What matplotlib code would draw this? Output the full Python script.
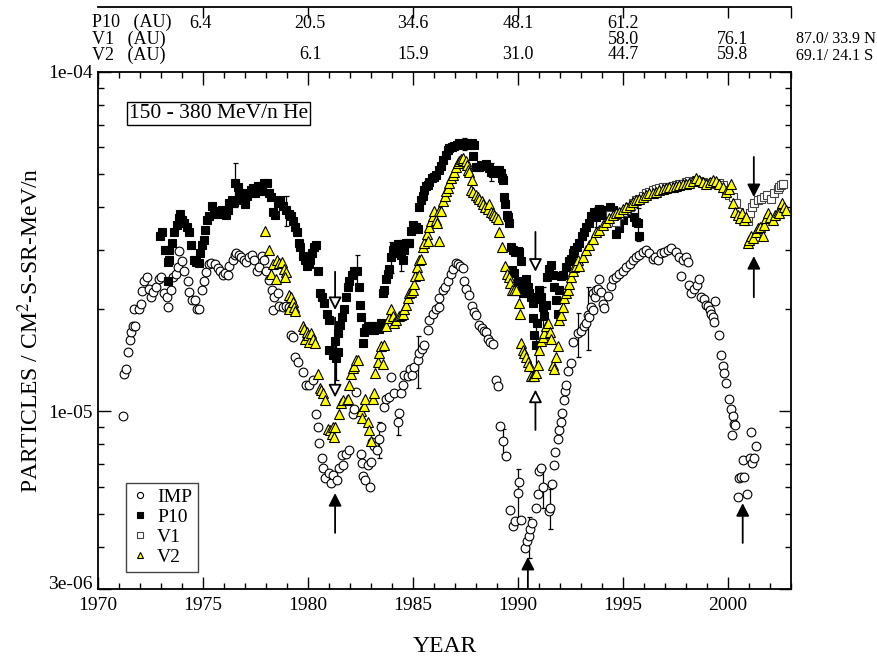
import matplotlib
matplotlib.use('Agg')
import matplotlib.pyplot as plt
import matplotlib.transforms as mtransforms
from matplotlib.ticker import FixedLocator, FixedFormatter, MultipleLocator, NullFormatter

plt.rcParams['font.family'] = ['Liberation Serif', 'DejaVu Serif']
plt.rcParams['mathtext.fontset'] = 'stix'

# flux values below are in units of 1e-6 particles / cm2-s-sr-MeV/n
UNIT = 1e-6

imp_year = [1971.18, 1971.25, 1971.33, 1971.42, 1971.50, 1971.57, 1971.65, 1971.77, 1971.73, 1971.95,
            1972.05, 1972.10, 1972.20, 1972.32, 1972.42, 1972.50, 1972.60, 1972.76, 1972.89, 1972.99,
            1973.16, 1973.27, 1973.34, 1973.48, 1973.59, 1973.72, 1973.80, 1973.88, 1974.00, 1974.11,
            1974.27, 1974.35, 1974.48, 1974.60, 1974.70, 1974.83, 1974.95, 1975.07, 1975.15, 1975.27,
            1975.40, 1975.55, 1975.70, 1975.83, 1975.94, 1976.06, 1976.17, 1976.26, 1976.42, 1976.50,
            1976.58, 1976.70, 1976.80, 1976.97, 1977.05, 1977.18, 1977.34, 1977.45, 1977.57, 1977.68,
            1977.81, 1977.89, 1978.00, 1978.16, 1978.29, 1978.40, 1978.32, 1978.56, 1978.64, 1978.80,
            1978.96, 1979.11, 1979.19, 1979.30, 1979.40, 1979.51, 1979.75, 1979.90, 1980.07, 1980.22,
            1980.38, 1980.46, 1980.54, 1980.67, 1980.73, 1980.83, 1980.99, 1981.10, 1981.18, 1981.37,
            1981.49, 1981.62, 1981.65, 1981.81, 1981.97, 1982.13, 1982.21, 1982.29, 1982.53, 1982.57,
            1982.64, 1982.73, 1982.84, 1982.96, 1983.00, 1983.05, 1983.16, 1983.27, 1983.40, 1983.48,
            1983.64, 1983.72, 1983.88, 1983.96, 1984.11, 1984.27, 1984.35, 1984.43, 1984.51, 1984.59,
            1984.75, 1984.86, 1984.96, 1985.07, 1985.23, 1985.30, 1985.43, 1985.54, 1985.70, 1985.78,
            1985.94, 1986.10, 1986.23, 1986.26, 1986.42, 1986.54, 1986.65, 1986.81, 1986.89, 1987.05,
            1987.15, 1987.25, 1987.37, 1987.45, 1987.53, 1987.69, 1987.81, 1987.92, 1988.00, 1988.16,
            1988.28, 1988.40, 1988.48, 1988.56, 1988.67, 1988.80, 1988.96, 1989.03, 1989.15, 1989.30,
            1989.43, 1989.62, 1989.75, 1989.88, 1989.99, 1990.07, 1990.15, 1990.32, 1990.43, 1990.50,
            1990.58, 1990.67, 1990.85, 1990.94, 1991.02, 1991.10, 1991.21, 1991.46, 1991.53, 1991.62,
            1991.73, 1991.78, 1991.89, 1991.97, 1992.05, 1992.10, 1992.21, 1992.26, 1992.29, 1992.37,
            1992.53, 1992.60, 1992.85, 1993.00, 1993.16, 1993.24, 1993.32, 1993.40, 1993.48, 1993.56,
            1993.59, 1993.69, 1993.72, 1993.80, 1993.85, 1993.95, 1994.04, 1994.10, 1994.27, 1994.43,
            1994.51, 1994.67, 1994.83, 1994.99, 1995.15, 1995.31, 1995.46, 1995.62, 1995.78, 1995.94,
            1996.10, 1996.26, 1996.42, 1996.50, 1996.65, 1996.81, 1996.97, 1997.13, 1997.29, 1997.53,
            1997.69, 1997.76, 1997.84, 1998.00, 1998.08, 1998.16, 1998.24, 1998.40, 1998.50, 1998.61,
            1998.72, 1998.84, 1998.96, 1999.04, 1999.12, 1999.19, 1999.27, 1999.35, 1999.40, 1999.59,
            1999.67, 1999.75, 1999.83, 1999.91, 2000.03, 2000.15, 2000.23, 2000.27, 2000.20, 2000.35,
            2000.46, 2000.51, 2000.62, 2000.70, 2000.78, 2000.89, 2001.05, 2001.10, 2001.15, 2001.26,
            2001.31]
imp_flux = [9.7, 12.9, 13.3, 15.0, 16.2, 17.1, 17.8, 17.9, 20.0, 20.1,
            20.8, 22.7, 24.3, 24.9, 23.0, 21.7, 22.5, 23.3, 24.5, 24.9,
            22.3, 21.7, 20.3, 22.8, 24.9, 25.4, 26.6, 29.6, 27.8, 26.0,
            24.3, 22.5, 21.3, 21.3, 20.0, 20.0, 22.8, 24.3, 25.7, 27.2,
            27.3, 27.2, 26.5, 25.9, 25.3, 25.6, 25.3, 26.8, 27.9, 28.9,
            29.3, 28.9, 28.6, 27.9, 27.6, 28.6, 28.9, 27.9, 26.0, 26.6,
            28.8, 27.9, 26.0, 24.4, 22.8, 21.8, 19.9, 22.3, 20.5, 20.3,
            20.5, 20.3, 16.8, 16.6, 14.5, 14.0, 13.1, 12.0, 12.0, 12.4,
            9.8, 9.0, 8.1, 7.3, 6.8, 6.36, 6.6, 6.15, 6.5, 6.3,
            6.8, 7.45, 6.95, 7.5, 7.7, 9.8, 10.2, 11.4, 7.5, 7.05,
            6.45, 6.3, 6.95, 6.0, 7.1, 8.15, 7.9, 7.7, 8.3, 9.0,
            10.3, 10.9, 11.0, 12.6, 11.3, 9.3, 9.9, 11.3, 12.0, 12.8,
            12.7, 13.3, 12.8, 13.5, 14.2, 14.9, 15.3, 15.7, 17.4, 18.6,
            19.4, 20.1, 20.3, 21.6, 22.8, 23.3, 24.3, 25.4, 26.2, 27.3,
            27.2, 26.8, 26.5, 24.3, 22.9, 22.0, 20.5, 19.7, 19.3, 18.0,
            17.6, 17.3, 17.2, 16.4, 16.0, 15.8, 12.4, 11.9, 9.05, 8.2,
            7.4, 5.13, 4.6, 4.75, 5.75, 6.2, 4.8, 3.95, 4.15, 4.3,
            4.5, 4.7, 5.2, 5.7, 6.7, 6.8, 6.0, 5.1, 5.2, 6.1,
            6.95, 7.6, 8.3, 8.8, 9.3, 9.9, 10.8, 11.5, 12.0, 13.2,
            13.9, 16.0, 17.0, 17.3, 17.8, 18.2, 19.2, 19.0, 20.3, 19.9,
            22.3, 21.8, 22.8, 22.9, 24.6, 22.5, 20.8, 20.2, 21.9, 23.4,
            24.5, 24.9, 25.4, 26.0, 26.6, 27.2, 27.9, 28.6, 28.9, 29.5,
            30.0, 29.3, 28.2, 28.6, 27.9, 29.3, 29.5, 30.0, 30.3, 29.5,
            28.6, 25.1, 27.9, 28.6, 27.5, 23.6, 22.3, 22.9, 23.6, 24.6,
            21.8, 21.4, 20.6, 20.4, 19.9, 19.4, 19.0, 18.4, 21.2, 16.8,
            14.7, 13.6, 13.0, 12.1, 10.9, 10.2, 9.7, 9.2, 8.5, 9.1,
            5.6, 6.35, 6.4, 7.2, 6.4, 5.7, 7.3, 8.7, 7.05, 7.3,
            7.9]

p10_year = [1972.97, 1973.05, 1973.21, 1973.37, 1973.32, 1973.40, 1973.34, 1973.53, 1973.64, 1973.75,
            1973.84, 1973.91, 1974.00, 1974.11, 1974.22, 1974.32, 1974.43, 1974.56, 1974.67, 1974.80,
            1974.86, 1974.95, 1975.03, 1975.11, 1975.18, 1975.30, 1975.43, 1975.54, 1975.65, 1975.78,
            1975.89, 1975.99, 1976.10, 1976.19, 1976.26, 1976.37, 1976.46, 1976.54, 1976.65, 1976.76,
            1976.89, 1976.99, 1977.08, 1977.18, 1977.29, 1977.40, 1977.49, 1977.61, 1977.72, 1977.81,
            1977.92, 1978.03, 1978.13, 1978.24, 1978.35, 1978.45, 1978.56, 1978.67, 1978.80, 1978.95,
            1979.08, 1979.19, 1979.30, 1979.40, 1979.46, 1979.56, 1979.64, 1979.75, 1979.84, 1979.94,
            1980.03, 1980.10, 1980.19, 1980.29, 1980.38, 1980.48, 1980.57, 1980.67, 1980.78, 1980.89,
            1980.99, 1981.02, 1981.18, 1981.34, 1981.45, 1981.30, 1981.42, 1981.50, 1981.62, 1981.73,
            1981.81, 1981.89, 1981.97, 1982.10, 1982.21, 1982.32, 1982.45, 1982.48, 1982.53, 1982.60,
            1982.69, 1982.78, 1982.86, 1982.95, 1983.03, 1983.12, 1983.22, 1983.30, 1983.40, 1983.48,
            1983.56, 1983.64, 1983.72, 1983.80, 1983.88, 1983.96, 1984.03, 1984.11, 1984.19, 1984.27,
            1984.35, 1984.43, 1984.51, 1984.59, 1984.67, 1984.75, 1984.83, 1984.91, 1984.99, 1985.07,
            1985.15, 1985.23, 1985.30, 1985.38, 1985.46, 1985.54, 1985.62, 1985.70, 1985.78, 1985.91,
            1986.02, 1986.10, 1986.23, 1986.34, 1986.45, 1986.57, 1986.65, 1986.73, 1986.86, 1986.97,
            1987.08, 1987.21, 1987.34, 1987.45, 1987.56, 1987.69, 1987.81, 1987.92, 1987.88, 1988.00,
            1988.13, 1988.24, 1988.35, 1988.48, 1988.60, 1988.72, 1988.83, 1988.96, 1989.08, 1989.19,
            1989.24, 1989.27, 1989.35, 1989.38, 1989.46, 1989.54, 1989.59, 1989.67, 1989.78, 1989.88,
            1989.99, 1990.07, 1990.15, 1989.72, 1989.83, 1989.99, 1990.19, 1990.26, 1990.38, 1990.46,
            1990.54, 1990.62, 1990.70, 1990.73, 1990.78, 1990.86, 1990.89, 1990.97, 1991.02, 1991.10,
            1991.18, 1991.26, 1991.34, 1991.37, 1991.46, 1991.57, 1991.65, 1991.73, 1991.81, 1991.89,
            1991.97, 1992.05, 1992.16, 1992.29, 1992.42, 1992.53, 1992.61, 1992.69, 1992.80, 1992.92,
            1993.05, 1993.16, 1993.24, 1993.37, 1993.48, 1993.64, 1993.72, 1993.88, 1994.03, 1994.19,
            1994.38, 1994.51, 1994.67, 1994.83, 1994.99, 1995.15, 1995.30, 1995.54, 1995.62, 1995.70,
            1995.78]
p10_flux = [32.8, 33.7, 29.9, 29.9, 27.6, 27.9, 24.3, 31.4, 33.7, 35.4,
            37.2, 38.1, 36.6, 35.8, 35.0, 33.8, 30.9, 27.9, 27.6, 27.3,
            29.3, 30.9, 31.9, 34.2, 36.6, 37.6, 40.2, 38.6, 38.2, 38.9,
            39.2, 38.2, 37.8, 39.2, 41.2, 42.0, 41.5, 47.0, 45.7, 44.1,
            42.0, 40.9, 43.0, 44.1, 44.9, 45.6, 43.9, 46.0, 44.7, 46.2,
            47.1, 47.0, 44.1, 42.9, 38.8, 38.0, 41.0, 42.0, 40.3, 39.2,
            38.2, 37.7, 36.4, 35.0, 33.8, 31.4, 30.5, 28.8, 27.9, 26.8,
            27.2, 28.0, 29.3, 30.6, 30.9, 25.9, 22.3, 21.7, 20.9, 19.4,
            18.6, 15.2, 14.7, 14.4, 15.0, 16.1, 17.0, 18.0, 19.0, 20.1,
            21.8, 23.3, 24.3, 25.2, 26.0, 25.9, 23.3, 20.6, 19.0, 15.9,
            17.2, 17.6, 17.9, 17.4, 17.8, 17.4, 17.6, 17.9, 17.5, 18.2,
            22.3, 22.8, 24.6, 25.4, 26.2, 28.6, 29.9, 30.6, 29.3, 31.2,
            30.6, 28.9, 27.9, 29.9, 31.4, 31.4, 31.4, 34.0, 35.4, 35.0,
            35.0, 34.4, 39.9, 42.1, 43.1, 44.9, 46.1, 46.4, 47.5, 48.6,
            48.9, 49.7, 51.5, 52.9, 55.1, 57.0, 59.0, 59.7, 60.1, 60.7,
            61.1, 61.6, 61.1, 61.6, 61.9, 61.1, 61.9, 61.1, 56.6, 52.6,
            52.6, 53.3, 52.9, 53.6, 52.0, 50.8, 50.3, 51.4, 51.6, 50.3,
            48.6, 48.1, 42.9, 40.9, 37.9, 37.3, 35.8, 30.6, 29.9, 29.5,
            29.7, 29.5, 27.7, 26.1, 25.5, 24.3, 23.3, 22.3, 24.6, 23.3,
            22.3, 21.8, 20.9, 18.9, 16.8, 15.7, 18.2, 21.5, 22.8, 21.8,
            20.3, 19.1, 20.6, 24.9, 26.3, 27.0, 25.3, 23.2, 21.3, 19.4,
            22.8, 25.0, 25.2, 26.6, 27.7, 28.2, 29.3, 29.9, 30.6, 31.4,
            32.8, 33.8, 35.0, 35.9, 37.6, 38.8, 37.5, 39.6, 37.9, 39.2,
            40.1, 39.2, 33.3, 34.6, 36.7, 38.4, 40.1, 37.5, 36.1, 35.8,
            32.9]

v1_year = [1994.40, 1994.67, 1994.83, 1994.99, 1995.15, 1995.31, 1995.46, 1995.62, 1995.78, 1995.94,
           1996.10, 1996.26, 1996.42, 1996.58, 1996.73, 1996.89, 1997.05, 1997.21, 1997.37, 1997.53,
           1997.69, 1997.84, 1998.00, 1998.16, 1998.32, 1998.48, 1998.64, 1998.80, 1998.96, 1999.12,
           1999.27, 1999.43, 1999.59, 1999.75, 1999.91, 2000.07, 2000.23, 2000.38, 2000.51, 2000.67,
           2000.78, 2000.94, 2001.05, 2001.15, 2001.26, 2001.42, 2001.57, 2001.73, 2001.84, 2002.05,
           2002.21, 2002.37, 2002.45, 2002.53, 2002.61]
v1_flux = [38.0, 36.1, 37.9, 38.8, 39.2, 40.1, 41.0, 42.0, 42.4, 43.1,
           43.9, 44.4, 44.9, 45.1, 45.4, 45.9, 45.9, 45.7, 46.1, 46.4,
           46.9, 46.9, 47.4, 47.8, 47.4, 48.2, 47.8, 47.4, 47.1, 46.9,
           47.4, 46.9, 47.1, 46.4, 44.9, 43.5, 42.8, 41.0, 38.8, 37.5,
           36.7, 36.5, 38.4, 40.1, 41.0, 42.0, 42.4, 42.8, 43.4, 42.2,
           43.9, 45.1, 45.9, 46.5, 46.8]

v2_year = [1977.97, 1978.13, 1978.24, 1978.35, 1978.48, 1978.50, 1978.62, 1978.75, 1978.86, 1978.97,
           1978.92, 1979.08, 1979.11, 1979.19, 1979.27, 1979.35, 1979.40, 1979.75, 1979.82, 1979.88,
           1979.93, 1980.00, 1980.07, 1980.15, 1980.22, 1980.35, 1980.46, 1980.57, 1980.62, 1980.70,
           1980.83, 1980.94, 1981.04, 1981.14, 1981.18, 1981.26, 1981.30, 1981.46, 1981.57, 1981.68,
           1981.84, 1981.90, 1981.97, 1982.05, 1982.13, 1982.21, 1982.29, 1982.37, 1982.53, 1982.57,
           1982.69, 1982.73, 1982.84, 1982.92, 1983.00, 1983.08, 1983.16, 1983.21, 1983.32, 1983.40,
           1983.48, 1983.56, 1983.64, 1983.72, 1983.88, 1983.96, 1984.03, 1984.11, 1984.19, 1984.32,
           1984.43, 1984.51, 1984.59, 1984.67, 1984.75, 1984.83, 1984.91, 1984.99, 1985.07, 1985.11,
           1985.18, 1985.27, 1985.30, 1985.38, 1985.46, 1985.54, 1985.65, 1985.70, 1985.78, 1985.86,
           1985.94, 1986.02, 1986.10, 1986.13, 1986.23, 1986.26, 1986.34, 1986.42, 1986.50, 1986.57,
           1986.65, 1986.73, 1986.81, 1986.89, 1986.97, 1987.05, 1987.13, 1987.21, 1987.29, 1987.37,
           1987.40, 1987.50, 1987.56, 1987.61, 1987.69, 1987.81, 1987.76, 1987.88, 1988.00, 1988.08,
           1988.16, 1988.29, 1988.35, 1988.45, 1988.56, 1988.64, 1988.72, 1988.80, 1988.88, 1988.96,
           1989.03, 1989.11, 1989.24, 1989.38, 1989.48, 1989.56, 1989.62, 1989.72, 1989.83, 1989.91,
           1990.07, 1990.10, 1990.15, 1990.22, 1990.30, 1990.38, 1990.46, 1990.54, 1990.62, 1990.70,
           1990.78, 1990.86, 1990.94, 1991.02, 1991.10, 1991.18, 1991.26, 1991.34, 1991.42, 1991.50,
           1991.57, 1991.65, 1991.73, 1991.81, 1991.89, 1991.97, 1992.05, 1992.13, 1992.21, 1992.29,
           1992.37, 1992.45, 1992.53, 1992.61, 1992.69, 1992.77, 1992.85, 1992.92, 1993.08, 1993.24,
           1993.40, 1993.56, 1993.72, 1993.88, 1994.04, 1994.19, 1994.35, 1994.51, 1994.67, 1994.83,
           1994.99, 1995.15, 1995.31, 1995.46, 1995.62, 1995.78, 1995.94, 1996.10, 1996.26, 1996.42,
           1996.58, 1996.73, 1996.89, 1997.05, 1997.21, 1997.37, 1997.53, 1997.69, 1997.84, 1998.00,
           1998.16, 1998.32, 1998.48, 1998.64, 1998.80, 1998.96, 1999.12, 1999.27, 1999.43, 1999.59,
           1999.75, 1999.91, 2000.07, 2000.15, 2000.26, 2000.35, 2000.46, 2000.57, 2000.67, 2000.78,
           2000.86, 2000.94, 2001.02, 2001.10, 2001.18, 2001.31, 2001.42, 2001.53, 2001.65, 2001.73,
           2001.81, 2001.89, 2002.00, 2002.13, 2002.26, 2002.37, 2002.45, 2002.58, 2002.69, 2002.77]
v2_flux = [33.9, 29.8, 25.4, 27.2, 24.6, 27.9, 27.3, 27.6, 26.2, 25.8,
           24.9, 20.1, 22.0, 21.8, 21.0, 20.3, 19.8, 17.8, 17.5, 16.4,
           17.2, 16.8, 16.0, 17.0, 16.4, 15.9, 12.9, 11.7, 11.6, 11.3,
           10.8, 8.9, 8.85, 8.6, 9.0, 8.4, 9.0, 9.8, 10.6, 10.8,
           10.8, 10.9, 12.0, 12.9, 13.4, 13.6, 14.2, 14.2, 10.0, 9.6,
           10.4, 10.9, 9.3, 8.8, 8.2, 10.9, 11.3, 13.0, 14.0, 14.9,
           15.6, 13.8, 15.7, 17.8, 18.9, 20.1, 19.1, 18.2, 18.6, 19.1,
           19.2, 19.4, 20.1, 20.6, 21.6, 22.3, 22.5, 22.8, 23.8, 25.0,
           26.6, 25.3, 27.9, 28.2, 30.6, 31.4, 33.3, 31.8, 35.0, 36.3,
           37.6, 38.9, 36.7, 35.8, 38.9, 31.8, 38.9, 41.6, 43.1, 44.5,
           45.5, 47.0, 48.6, 49.7, 50.8, 52.6, 53.8, 54.5, 55.4, 55.1,
           55.7, 54.5, 53.3, 51.5, 50.8, 48.1, 44.9, 44.4, 43.3, 42.8,
           42.3, 41.8, 40.9, 40.0, 39.6, 40.9, 38.8, 38.4, 37.9, 37.5,
           37.0, 33.7, 30.6, 26.8, 25.4, 24.9, 23.9, 22.8, 22.8, 22.8,
           20.9, 19.4, 15.9, 15.2, 14.9, 14.5, 14.0, 13.6, 12.7, 12.7,
           12.7, 13.0, 13.7, 15.2, 16.1, 16.6, 17.0, 17.8, 18.2, 17.2,
           16.3, 13.7, 13.3, 14.5, 15.6, 18.6, 19.2, 20.3, 21.6, 22.3,
           22.8, 23.8, 24.9, 26.0, 26.6, 26.9, 27.9, 26.9, 28.6, 29.9,
           30.9, 32.2, 33.7, 34.2, 35.4, 36.1, 37.1, 37.9, 38.4, 38.8,
           39.4, 40.1, 40.6, 41.5, 42.0, 42.4, 42.8, 43.4, 43.9, 44.1,
           44.4, 44.9, 45.1, 45.4, 45.7, 45.9, 46.1, 46.4, 46.9, 46.9,
           47.1, 47.8, 48.6, 48.2, 47.4, 46.9, 47.4, 48.2, 47.8, 46.9,
           45.9, 44.4, 45.1, 46.9, 41.0, 38.8, 37.9, 37.1, 38.4, 36.7,
           37.5, 31.3, 32.0, 32.8, 32.4, 33.7, 34.6, 35.0, 32.9, 35.4,
           37.1, 38.4, 37.5, 36.7, 37.9, 38.8, 38.4, 41.0, 40.1, 39.2]

# the few points that carry visible error bars (year, flux, half-length)
imp_err_year = [1983.40, 1984.27, 1985.23, 1989.30, 1989.99, 1990.50, 1991.21, 1991.53, 1992.85, 1993.32]
imp_err_flux = [8.3, 9.3, 14.2, 8.2, 5.75, 4.3, 6.0, 5.2, 17.0, 19.2]
imp_err_size = [1.0, 0.8, 2.5, 0.7, 1.0, 0.6, 0.8, 0.7, 2.5, 4.0]
p10_err_year = [1976.54, 1978.95, 1981.34, 1982.32, 1983.96, 1984.43, 1987.45, 1988.72,
                1990.86, 1991.18, 1993.72, 1995.70]
p10_err_flux = [47.0, 39.2, 14.4, 25.9, 28.6, 28.9, 61.6, 50.8, 15.7, 20.3, 37.5, 35.8]
p10_err_size = [7.0, 4.0, 2.0, 3.0, 3.0, 3.0, 2.5, 3.0, 3.0, 3.0, 2.5, 4.0]

# arrows: year, start, tip (same units), open head?
arrow_year = [1981.29, 1981.29, 1981.29, 1990.83, 1990.83, 1990.47, 2001.23, 2001.23, 2000.70]
arrow_from = [25.8, 18.9, 4.39, 33.8, 8.82, 3.02, 56.2, 21.7, 4.10]
arrow_to = [19.9, 11.0, 5.75, 25.8, 11.6, 3.73, 42.8, 28.7, 5.37]
arrow_open = [True, True, False, True, True, False, False, False, False]

# distance table above the plot: one column per epoch, rows P10 / V1 / V2
dist_rows = ['P10   (AU)', 'V1   (AU)', 'V2   (AU)']
col_year = [1974.9, 1980.1, 1985.0, 1990.0, 1995.0, 2000.2]
col_p10 = ['6.4', '20.5', '34.6', '48.1', '61.2', '']
col_v1 = ['', '', '', '', '58.0', '76.1']
col_v2 = ['', '6.1', '15.9', '31.0', '44.7', '59.8']
end_au = ['', '87.0/ 33.9', '69.1/ 24.1']
end_dir = ['', 'N', 'S']

W, H = 877, 657
fig = plt.figure(figsize=(W / 100, H / 100), dpi=100)
ax = fig.add_axes([98 / W, 68 / H, 693 / W, 517 / H])

def scaled(vals):
    return [v * UNIT for v in vals]

ax.errorbar(imp_err_year, scaled(imp_err_flux), yerr=scaled(imp_err_size), fmt='none',
            ecolor='black', elinewidth=0.9, capsize=1.8, capthick=0.9, zorder=2)
ax.errorbar(p10_err_year, scaled(p10_err_flux), yerr=scaled(p10_err_size), fmt='none',
            ecolor='black', elinewidth=0.9, capsize=1.8, capthick=0.9, zorder=2)

ax.plot(imp_year, scaled(imp_flux), ls='none', marker='o', ms=6.3, mfc='white', mec='black',
        mew=0.8, label='IMP', zorder=3)
ax.plot(p10_year, scaled(p10_flux), ls='none', marker='s', ms=5.3, mfc='black', mec='black',
        mew=0.8, label='P10', zorder=4)
ax.plot(v1_year, scaled(v1_flux), ls='none', marker='s', ms=5.3, mfc='white', mec='#444444',
        mew=0.8, label='V1', zorder=5)
ax.plot(v2_year, scaled(v2_flux), ls='none', marker='^', ms=6.5, mfc='#ffff00', mec='black',
        mew=0.8, label='V2', zorder=6)

for yr, y0, y1, op in zip(arrow_year, arrow_from, arrow_to, arrow_open):
    ax.annotate('', xy=(yr, y1 * UNIT), xytext=(yr, y0 * UNIT),
                arrowprops=dict(arrowstyle='-|>,head_length=0.55,head_width=0.28',
                                mutation_scale=14, lw=1.3, ec='black',
                                fc='white' if op else 'black', shrinkA=0, shrinkB=0),
                zorder=7)

ax.set_xlim(1970, 2003)
ax.set_yscale('log')
ax.set_ylim(3e-6, 1e-4)

ax.xaxis.set_major_locator(FixedLocator([1970, 1975, 1980, 1985, 1990, 1995, 2000]))
ax.xaxis.set_minor_locator(MultipleLocator(1))
# bottom label 3e-06 is placed by hand a little higher so it clears 1970
ax.yaxis.set_major_locator(FixedLocator([3e-6, 1e-5, 1e-4]))
ax.yaxis.set_major_formatter(FixedFormatter(['', '1e-05', '1e-04']))
ax.yaxis.set_minor_locator(FixedLocator([4e-6, 5e-6, 6e-6, 7e-6, 8e-6, 9e-6,
                                         2e-5, 3e-5, 4e-5, 5e-5, 6e-5, 7e-5, 8e-5, 9e-5]))
ax.yaxis.set_minor_formatter(NullFormatter())
ax.tick_params(which='both', direction='in', top=True, right=True, width=1.0, labelsize=14)
ax.tick_params(axis='y', pad=4)
ax.tick_params(axis='x', pad=6)
ax.tick_params(which='major', length=9)
ax.tick_params(which='minor', length=4.5)
for sp in ax.spines.values():
    sp.set_linewidth(1.3)
ax.annotate('3e-06', xy=(0, 3e-6), xycoords=('axes fraction', 'data'), xytext=(-4, 3),
            textcoords='offset points', ha='right', va='center', fontsize=14)

fig.text(30 / W, 1 - 330 / H, 'PARTICLES / CM$^{2}$-S-SR-MeV/n', rotation=90,
         ha='center', va='center', fontsize=17)
fig.text(445 / W, 1 - 647 / H, 'YEAR', ha='center', va='center', fontsize=17)

ax.text(0.045, 0.9377, '150 - 380 MeV/n He', transform=ax.transAxes, ha='left', va='top',
        fontsize=15.5, bbox=dict(boxstyle='square,pad=0.1', fc='white', ec='black', lw=1.0),
        zorder=8)

leg = ax.legend(loc='lower left', bbox_to_anchor=(0.0404, 0.033), borderaxespad=0,
                fancybox=False, edgecolor='#444444', framealpha=1, fontsize=14,
                markerscale=0.7, handlelength=0.8, handletextpad=0.5, borderpad=0.3,
                labelspacing=0.12)
leg.get_frame().set_linewidth(1.0)
leg.set_zorder(9)

# thin axis line across the very top with ticks at the 5-year marks
ax_top = fig.add_axes([98 / W, 1 - 8 / H, 693 / W, 1 / H])
ax_top.set_xlim(1970, 2003)
ax_top.set_ylim(0, 1)
for side in ['bottom', 'left', 'right']:
    ax_top.spines[side].set_visible(False)
ax_top.spines['top'].set_linewidth(1.3)
ax_top.set_yticks([])
ax_top.set_xticks([1975, 1980, 1985, 1990, 1995, 2000, 2003])
ax_top.tick_params(axis='x', which='major', direction='in', top=True, bottom=False,
                   labeltop=False, labelbottom=False, length=8, width=1.0)
ax_top.patch.set_visible(False)

hdr = mtransforms.blended_transform_factory(ax.transData, fig.transFigure)
mid_row = 1 - 39 / H
fig.text(92 / W, mid_row, '\n'.join(dist_rows), ha='left', va='center', fontsize=13,
         linespacing=0.92)
for yr, a, b, c in zip(col_year, col_p10, col_v1, col_v2):
    ax.text(yr, mid_row, '\n'.join([a, b, c]), transform=hdr, ha='center', va='center',
            multialignment='center', fontsize=13, linespacing=0.92)
fig.text(796 / W, mid_row, '\n'.join(end_au), ha='left', va='center', fontsize=11.5,
         linespacing=1.1)
fig.text(864 / W, mid_row, '\n'.join(end_dir), ha='left', va='center', fontsize=12,
         linespacing=1.05)

fig.savefig('out.png', dpi=100)
